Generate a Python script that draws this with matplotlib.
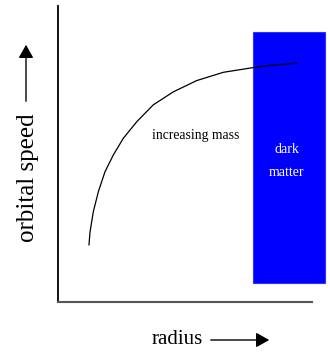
import matplotlib
matplotlib.use("Agg")
import matplotlib.pyplot as plt
from matplotlib.patches import Rectangle

# rotation curve (arbitrary units 0-10)
radius = [1.22, 1.26, 1.39, 1.59, 1.85, 2.18, 2.57, 3.10, 3.75, 4.54, 5.46, 6.51, 7.69, 8.48, 9.40]
speed = [1.93, 2.36, 3.05, 3.73, 4.40, 4.97, 5.53, 6.09, 6.66, 7.10, 7.48, 7.76, 7.92, 8.01, 8.06]

# dark matter region
dm_left, dm_right = 7.68, 10.51
dm_bottom, dm_top = 0.64, 9.12

plt.rcParams["font.family"] = ["Liberation Serif", "DejaVu Serif"]

fig = plt.figure(figsize=(3.30, 3.52), dpi=100)
ax = fig.add_axes([58 / 330, 50 / 352, 254 / 330, 296 / 352])
ax.set_xlim(0, 10)
ax.set_ylim(0, 10)

ax.add_patch(Rectangle((dm_left, dm_bottom), dm_right - dm_left, dm_top - dm_bottom,
                       facecolor="#0000ff", edgecolor="#3030ff", lw=0.8, clip_on=False))
ax.plot(radius, speed, color="black", lw=0.9, clip_on=False)

ax.text(5.43, 5.63, "increasing mass", fontsize=9.8, ha="center", va="center")
ax.text(9.0, 4.75, "dark\nmatter", fontsize=10, color="white",
        ha="center", va="center", linespacing=2.0)

for s in ["top", "right"]:
    ax.spines[s].set_visible(False)
ax.spines["left"].set_color("black")
ax.spines["bottom"].set_color("#555555")
ax.spines["left"].set_linewidth(1.3)
ax.spines["bottom"].set_linewidth(1.5)
ax.set_xticks([])
ax.set_yticks([])

# axis titles with arrows
arrow = dict(arrowstyle="-|>,head_length=0.8,head_width=0.45", color="black", lw=1.0)
fig.text(177 / 330, 1 - 340 / 352, "radius", fontsize=15, ha="center", va="center")
ax.annotate("", xy=(272 / 330, 1 - 340 / 352), xytext=(208 / 330, 1 - 340 / 352),
            xycoords="figure fraction", arrowprops=arrow, annotation_clip=False)
fig.text(28 / 330, 1 - 178 / 352, "orbital speed", fontsize=18, rotation=90,
         ha="center", va="center")
ax.annotate("", xy=(26 / 330, 1 - 42 / 352), xytext=(26 / 330, 1 - 104 / 352),
            xycoords="figure fraction", arrowprops=arrow, annotation_clip=False)

fig.savefig("out.png", dpi=100)
